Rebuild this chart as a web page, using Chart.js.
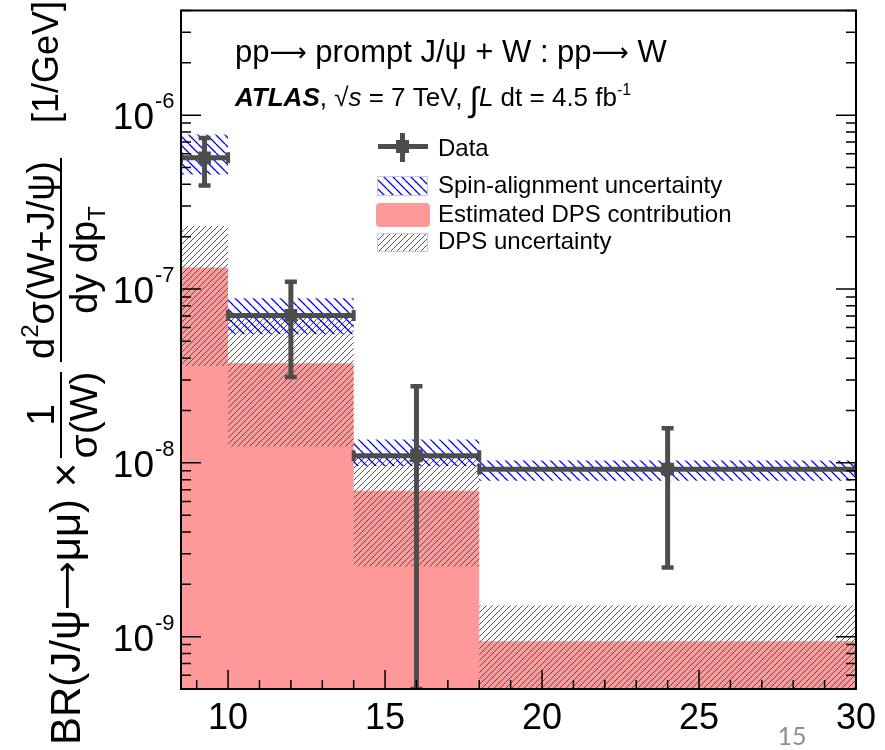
<!DOCTYPE html>
<html>
<head>
<meta charset="utf-8">
<script src="https://cdn.jsdelivr.net/npm/chart.js@4.4.0/dist/chart.umd.min.js"></script>
<style>
  html, body { margin: 0; padding: 0; background: #fff; }
  #wrap { width: 885px; height: 750px; }
</style>
</head>
<body>
<div id="wrap"><canvas id="chart" width="885" height="750"></canvas></div>
<script>
// pT bins [GeV]
const binEdges = [8.5, 10, 14, 18, 30];
const binCenters = [9.25, 12, 16, 24];

// measured ratio with the ends of its error bars
const dataValues = [5.68e-7, 7.05e-8, 1.1e-8, 9.2e-9];
const dataErrUp = [7.4e-7, 1.1e-7, 2.76e-8, 1.58e-8];
const dataErrDown = [3.94e-7, 3.12e-8, 5e-10, 2.5e-9];

// spin-alignment band
const spinUp = [7.75e-7, 8.84e-8, 1.36e-8, 1.03e-8];
const spinDown = [4.56e-7, 5.49e-8, 9.6e-9, 7.88e-9];

// estimated DPS contribution and its uncertainty band
const dpsValues = [1.33e-7, 3.74e-8, 6.9e-9, 9.4e-10];
const dpsUp = [2.3e-7, 6.84e-8, 1.07e-8, 1.51e-9];
const dpsDown = [3.61e-8, 1.24e-8, 2.53e-9, 3e-10];

const xTicks = [10, 15, 20, 25, 30];
const yDecades = [-9, -8, -7, -6];

const FONT = "'Liberation Sans', Arial, Helvetica, sans-serif";
const ARROW_FONT = "'DejaVu Sans', sans-serif";
const DARK = '#4d4d4d';
const RED = '#ff9999';

const canvas = document.getElementById('chart');
const ctx = canvas.getContext('2d');

// diagonal line pattern, '/' or '\'
function hatch(color, period, width, dir) {
  const c = document.createElement('canvas');
  c.width = c.height = period;
  const g = c.getContext('2d');
  g.strokeStyle = color;
  g.lineWidth = width;
  g.beginPath();
  for (const o of [-period, 0, period]) {
    if (dir === '/') { g.moveTo(o, period); g.lineTo(o + period, 0); }
    else { g.moveTo(o, 0); g.lineTo(o + period, period); }
  }
  g.stroke();
  return ctx.createPattern(c, 'repeat');
}

const greyHatch = hatch('#555555', 6, 1, '/');
const blueHatch = hatch('#0000ff', 9, 1.3, '\\');

// histogram outline: a point at each left edge plus the last right edge
const steps = vals => binEdges.map((x, i) => ({ x, y: vals[Math.min(i, vals.length - 1)] }));

// error bars as separate segments (null breaks the line)
const hBars = [];
const vBars = [];
binCenters.forEach((c, i) => {
  hBars.push({ x: binEdges[i], y: dataValues[i] }, { x: binEdges[i + 1], y: dataValues[i] }, { x: binEdges[i + 1], y: null });
  vBars.push({ x: c, y: dataErrDown[i] }, { x: c, y: dataErrUp[i] }, { x: c, y: null });
});

const band = (data, fill, bg) => ({
  data, fill, backgroundColor: bg, borderWidth: 0, borderColor: 'transparent',
  pointRadius: 0, stepped: true
});

// draw a run of text pieces left to right
function runs(c, x, y, parts) {
  for (const p of parts) {
    c.font = p.f;
    c.fillText(p.t, x, y + (p.dy || 0));
    x += c.measureText(p.t).width + (p.gap || 0);
  }
  return x;
}

function drawYTitle(c) {
  c.save();
  c.fillStyle = '#000';
  c.textAlign = 'left';
  c.textBaseline = 'alphabetic';
  c.rotate(-Math.PI / 2);
  // in the rotated frame a point (u, v) lands at x = v, y = -u
  const f = s => `${s}px ${FONT}`;
  runs(c, -745, 80, [
    { t: 'BR(J/ψ', f: f(42) },
    { t: '⟶', f: `34px ${ARROW_FONT}`, dy: -2 },
    { t: 'μμ) ×', f: f(42) }
  ]);

  // 1 / σ(W)
  c.font = f(39);
  let w = c.measureText('1').width;
  c.fillText('1', -415 - w / 2, 54);
  w = c.measureText('σ(W)').width;
  c.fillText('σ(W)', -415 - w / 2, 97);

  // d²σ(W+J/ψ) / dy dp_T
  c.font = f(38);
  const numW = c.measureText('dσ(W+J/ψ)').width;
  c.font = f(24);
  const supW = c.measureText('2').width;
  runs(c, -260 - (numW + supW) / 2, 54, [
    { t: 'd', f: f(38) },
    { t: '2', f: f(24), dy: -16 },
    { t: 'σ(W+J/ψ)', f: f(38) }
  ]);
  c.font = f(38);
  const denW = c.measureText('dy dp').width;
  c.font = f(24);
  const subW = c.measureText('T').width;
  runs(c, -260 - (denW + subW) / 2, 97, [
    { t: 'dy dp', f: f(38) },
    { t: 'T', f: f(24), dy: 8 }
  ]);

  c.font = f(36);
  c.fillText('[1/GeV]', -123, 58);
  c.restore();

  // fraction bars
  c.fillStyle = '#000';
  c.fillRect(60, 372, 2, 86);
  c.fillRect(60, 158, 2, 204);
}

const decorations = {
  id: 'decorations',
  afterDatasetsDraw(chart) {
    const { ctx: c, chartArea: a, scales: { x, y } } = chart;
    c.save();
    c.strokeStyle = '#000';
    c.lineWidth = 1.5;
    c.beginPath();
    for (let e = Math.floor(Math.log10(y.min)); e <= Math.ceil(Math.log10(y.max)); e++) {
      for (let k = 1; k <= 9; k++) {
        const v = k * Math.pow(10, e);
        if (v < y.min || v > y.max) continue;
        const py = y.getPixelForValue(v);
        const len = k === 1 ? 20 : 10;
        c.moveTo(a.left, py); c.lineTo(a.left + len, py);
        c.moveTo(a.right, py); c.lineTo(a.right - len, py);
      }
    }
    for (let v = Math.ceil(x.min); v <= Math.floor(x.max); v++) {
      const px = x.getPixelForValue(v);
      const len = v % 5 === 0 ? 19 : 9;
      c.moveTo(px, a.bottom); c.lineTo(px, a.bottom - len);
    }
    c.stroke();
    c.lineWidth = 2;
    c.strokeRect(a.left, a.top, a.right - a.left, a.bottom - a.top);
    c.restore();
  },
  afterDraw(chart) {
    const { ctx: c, scales: { y } } = chart;
    c.save();
    c.fillStyle = '#000';

    // y tick labels 10^n
    for (const e of yDecades) {
      const py = y.getPixelForValue(Math.pow(10, e));
      c.font = `37px ${FONT}`;
      c.textAlign = 'right';
      c.textBaseline = 'middle';
      c.fillText('10', 154, py + 4);
      c.font = `22px ${FONT}`;
      c.textAlign = 'left';
      c.fillText(String(e), 155, py - 13);
    }

    drawYTitle(c);

    // header text
    c.textAlign = 'left';
    c.textBaseline = 'alphabetic';
    c.fillStyle = '#000';
    const t31 = `31px ${FONT}`;
    const arr = `26px ${ARROW_FONT}`;
    runs(c, 235, 62, [
      { t: 'pp', f: t31 },
      { t: '⟶', f: arr, dy: -1 },
      { t: ' prompt J/ψ + W : pp', f: t31 },
      { t: '⟶', f: arr, dy: -1 },
      { t: ' W', f: t31 }
    ]);
    runs(c, 235, 106, [
      { t: 'ATLAS', f: `italic bold 26px ${FONT}` },
      { t: ', ', f: `26px ${FONT}` },
      { t: '√', f: `26px ${FONT}` },
      { t: 's', f: `italic 26px ${FONT}` },
      { t: ' = 7 TeV, ', f: `26px ${FONT}` },
      { t: '∫', f: `34px ${FONT}`, dy: 5 },
      { t: 'L', f: `italic 26px ${FONT}` },
      { t: ' dt = 4.5 fb', f: `26px ${FONT}` },
      { t: '-1', f: `16px ${FONT}`, dy: -11 }
    ]);

    // legend
    c.fillStyle = DARK;
    c.fillRect(378, 144, 50, 5);
    c.fillRect(400, 133, 5, 29);
    c.fillRect(396, 140, 13, 13);
    c.fillStyle = blueHatch;
    c.fillRect(377, 176, 51, 20);
    c.fillStyle = RED;
    c.beginPath();
    c.roundRect(376, 203, 54, 24, 4);
    c.fill();
    c.fillStyle = greyHatch;
    c.fillRect(377, 233, 51, 19);
    c.strokeStyle = '#cccccc';
    c.lineWidth = 1;
    c.strokeRect(377.5, 176.5, 50, 19);
    c.strokeRect(377.5, 233.5, 50, 18);

    c.fillStyle = '#000';
    c.font = `24px ${FONT}`;
    c.fillText('Data', 438, 156);
    c.fillText('Spin-alignment uncertainty', 438, 193);
    c.fillText('Estimated DPS contribution', 438, 222);
    c.fillText('DPS uncertainty', 438, 249);

    // slide number
    c.fillStyle = '#8f8f8f';
    c.font = "25px Lato, 'Open Sans', sans-serif";
    c.textAlign = 'center';
    c.fillText('15', 792, 745);
    c.restore();
  }
};

Chart.defaults.font.family = FONT;

new Chart(ctx, {
  type: 'line',
  data: {
    datasets: [
      {
        label: 'Data',
        data: binCenters.map((x, i) => ({ x, y: dataValues[i] })),
        showLine: false,
        pointStyle: 'rect',
        pointRadius: 9,
        pointBackgroundColor: DARK,
        pointBorderWidth: 0
      },
      {
        data: hBars,
        borderColor: DARK,
        borderWidth: 5,
        spanGaps: false,
        pointStyle: 'line',
        pointRotation: 90,
        pointRadius: 5.5,
        pointBorderColor: DARK,
        pointBorderWidth: 4
      },
      {
        data: vBars,
        borderColor: DARK,
        borderWidth: 5,
        spanGaps: false,
        pointStyle: 'line',
        pointRotation: 0,
        pointRadius: 6,
        pointBorderColor: DARK,
        pointBorderWidth: 4.5
      },
      band(steps(spinUp), '+1', blueHatch),
      band(steps(spinDown), false, 'transparent'),
      band(steps(dpsUp), '+1', greyHatch),
      band(steps(dpsDown), false, 'transparent'),
      band(steps(dpsValues), 'start', RED)
    ]
  },
  options: {
    responsive: false,
    animation: false,
    events: [],
    layout: { padding: { left: 0, right: 29, top: 8, bottom: 0 } },
    plugins: { legend: { display: false }, tooltip: { enabled: false } },
    scales: {
      x: {
        type: 'linear',
        min: 8.5,
        max: 30,
        afterBuildTicks: s => { s.ticks = xTicks.map(v => ({ value: v })); },
        afterFit: s => { s.height = 61; },
        ticks: { font: { size: 36 }, color: '#000', padding: 8, maxRotation: 0, autoSkip: false },
        grid: { display: false, drawTicks: false },
        border: { display: false }
      },
      y: {
        type: 'logarithmic',
        min: 5e-10,
        max: 4e-6,
        afterFit: s => { s.width = 181; },
        ticks: { display: false },
        grid: { display: false, drawTicks: false },
        border: { display: false }
      }
    }
  },
  plugins: [decorations]
});
</script>
</body>
</html>
